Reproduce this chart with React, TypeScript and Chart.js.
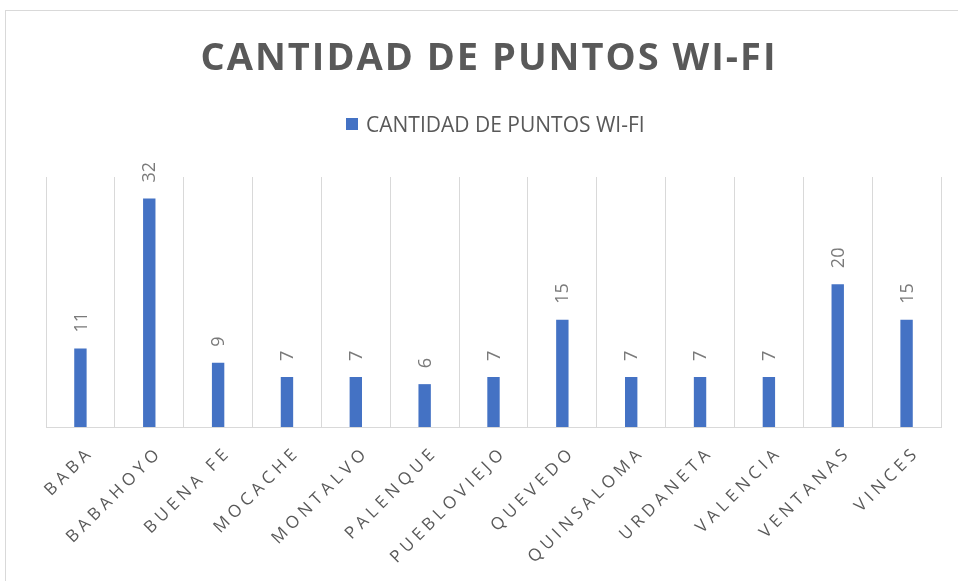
import React, { useEffect, useRef } from "react";
import { Chart, registerables } from "chart.js";

Chart.register(...registerables);

const TITLE = "CANTIDAD DE PUNTOS WI-FI";
const SERIES_NAME = "CANTIDAD DE PUNTOS WI-FI";
const CATEGORIES = [
  "BABA",
  "BABAHOYO",
  "BUENA FE",
  "MOCACHE",
  "MONTALVO",
  "PALENQUE",
  "PUEBLOVIEJO",
  "QUEVEDO",
  "QUINSALOMA",
  "URDANETA",
  "VALENCIA",
  "VENTANAS",
  "VINCES",
];
const VALUES = [11, 32, 9, 7, 7, 6, 7, 15, 7, 7, 7, 20, 15];
const Y_MIN = 0;
const Y_MAX = 35;

const BAR_COLOR = "#4472C4";
const TEXT_DARK = "#595959";
const LABEL_GRAY = "#7a7a7a";
const GRID = "#d9d9d9";
const FONT = '"Open Sans", "Noto Sans", sans-serif';

const W = 958;
const H = 581;

const decorPlugin = {
  id: "decor",
  beforeDraw(chart: any) {
    const ctx = chart.ctx as CanvasRenderingContext2D;
    ctx.save();
    ctx.fillStyle = "#ffffff";
    ctx.fillRect(0, 0, W, H);
    // outer chart border
    ctx.strokeStyle = GRID;
    ctx.lineWidth = 1;
    ctx.strokeRect(5.5, 10.5, W + 20, H + 20);
    // title
    ctx.fillStyle = TEXT_DARK;
    ctx.font = `bold 38px ${FONT}`;
    (ctx as any).letterSpacing = "2px";
    ctx.textAlign = "center";
    ctx.textBaseline = "alphabetic";
    ctx.fillText(TITLE, 489, 70);
    // legend
    (ctx as any).letterSpacing = "0px";
    ctx.fillStyle = BAR_COLOR;
    ctx.fillRect(346, 118, 12, 12);
    ctx.fillStyle = TEXT_DARK;
    ctx.font = `21px ${FONT}`;
    ctx.textAlign = "left";
    ctx.fillText(SERIES_NAME, 366, 132);
    ctx.restore();
  },
  afterDatasetsDraw(chart: any) {
    const ctx = chart.ctx as CanvasRenderingContext2D;
    const meta = chart.getDatasetMeta(0);
    const data = chart.data.datasets[0].data as number[];
    ctx.save();
    ctx.fillStyle = LABEL_GRAY;
    ctx.font = `18px ${FONT}`;
    ctx.textAlign = "left";
    ctx.textBaseline = "middle";
    meta.data.forEach((el: any, i: number) => {
      ctx.save();
      ctx.translate(el.x, el.y - 16);
      ctx.rotate(-Math.PI / 2);
      ctx.fillText(String(data[i]), 0, 1);
      ctx.restore();
    });
    ctx.restore();
  },
  afterDraw(chart: any) {
    const ctx = chart.ctx as CanvasRenderingContext2D;
    const xs = chart.scales.x;
    const bottom = chart.chartArea.bottom;
    ctx.save();
    ctx.fillStyle = TEXT_DARK;
    ctx.font = `17px ${FONT}`;
    (ctx as any).letterSpacing = "4.5px";
    ctx.textAlign = "right";
    ctx.textBaseline = "alphabetic";
    CATEGORIES.forEach((label, i) => {
      const x = xs.getPixelForValue(i);
      ctx.save();
      ctx.translate(x + 14, bottom + 26);
      ctx.rotate(-Math.PI / 4);
      ctx.fillText(label, 0, 0);
      ctx.restore();
    });
    ctx.restore();
  },
};

export default function App() {
  const ref = useRef<HTMLCanvasElement | null>(null);
  useEffect(() => {
    if (!ref.current) return;
    const chart = new Chart(ref.current, {
      type: "bar",
      data: {
        labels: CATEGORIES,
        datasets: [
          {
            label: SERIES_NAME,
            data: VALUES,
            backgroundColor: BAR_COLOR,
            borderWidth: 0,
            barPercentage: 0.18,
            categoryPercentage: 1.0,
          },
        ],
      },
      options: {
        animation: false,
        responsive: false,
        maintainAspectRatio: false,
        devicePixelRatio: 1,
        layout: { padding: { left: 46, right: 17, top: 177, bottom: 154 } },
        plugins: {
          legend: { display: false },
          title: { display: false },
          tooltip: { enabled: false },
        },
        scales: {
          x: {
            offset: true,
            grid: { display: true, color: GRID, lineWidth: 1, offset: true, drawTicks: false },
            border: { display: true, color: GRID, width: 1 },
            ticks: { display: false },
          },
          y: {
            display: false,
            min: Y_MIN,
            max: Y_MAX,
          },
        },
      },
      plugins: [decorPlugin],
    });
    return () => chart.destroy();
  }, []);
  return (
    <div style={{ position: "fixed", left: 0, top: 0, width: W, height: H, background: "#fff" }}>
      <canvas ref={ref} width={W} height={H} style={{ display: "block", width: W, height: H }} />
    </div>
  );
}
